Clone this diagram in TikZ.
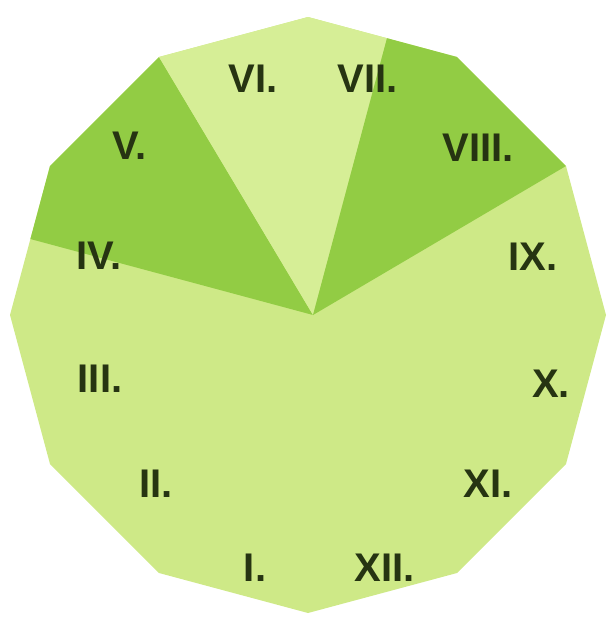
\documentclass[tikz,border=0pt]{standalone}
\usepackage{fontspec}
\setmainfont{Liberation Sans}
\usetikzlibrary{calc}
\definecolor{bodygreen}{RGB}{206,233,135}
\definecolor{palegreen}{RGB}{214,238,150}
\definecolor{darkgreen}{RGB}{146,204,68}
\definecolor{inkgreen}{RGB}{38,52,18}
\begin{document}
\begin{tikzpicture}[x=1pt,y=-1pt,
  numeral/.style={font=\fontsize{40}{40}\selectfont\bfseries, text=inkgreen, inner sep=0pt, anchor=center}]
\useasboundingbox (0,0) rectangle (610,625);
% dodecagon vertices
\coordinate (p90)  at (308,17);
\coordinate (p60)  at (457,57);
\coordinate (p30)  at (566,166);
\coordinate (p0)   at (606,315);
\coordinate (p330) at (566,464);
\coordinate (p300) at (457,573);
\coordinate (p270) at (308,613);
\coordinate (p240) at (159,573);
\coordinate (p210) at (50,464);
\coordinate (p180) at (10,315);
\coordinate (p150) at (50,166);
\coordinate (p120) at (159,57);
\coordinate (apex) at (313,315);
\coordinate (bl) at ($(p150)!0.49!(p180)$);
\coordinate (br) at ($(p90)!0.53!(p60)$);
% body
\fill[bodygreen] (p90) -- (p60) -- (p30) -- (p0) -- (p330) -- (p300) -- (p270) -- (p240) -- (p210) -- (p180) -- (p150) -- (p120) -- cycle;
% sectors
\fill[darkgreen] (apex) -- (bl) -- (p150) -- (p120) -- cycle;
\fill[palegreen] (apex) -- (p120) -- (p90) -- (br) -- cycle;
\fill[darkgreen] (apex) -- (br) -- (p60) -- (p30) -- cycle;
% numerals
\node[numeral] (n1)  at (255,568) {I.};
\node[numeral] (n2)  at (156,484) {II.};
\node[numeral] (n3)  at (100,379) {III.};
\node[numeral] (n4)  at (99,256)  {IV.};
\node[numeral] (n5)  at (130,146) {V.};
\node[numeral] (n6)  at (253,79)  {VI.};
\node[numeral] (n7)  at (368,79)  {VII.};
\node[numeral] (n8)  at (478,148) {VIII.};
\node[numeral] (n9)  at (533,257) {IX.};
\node[numeral] (n10) at (551,384) {X.};
\node[numeral] (n11) at (488,484) {XI.};
\node[numeral] (n12) at (385,568) {XII.};
\end{tikzpicture}
\end{document}
